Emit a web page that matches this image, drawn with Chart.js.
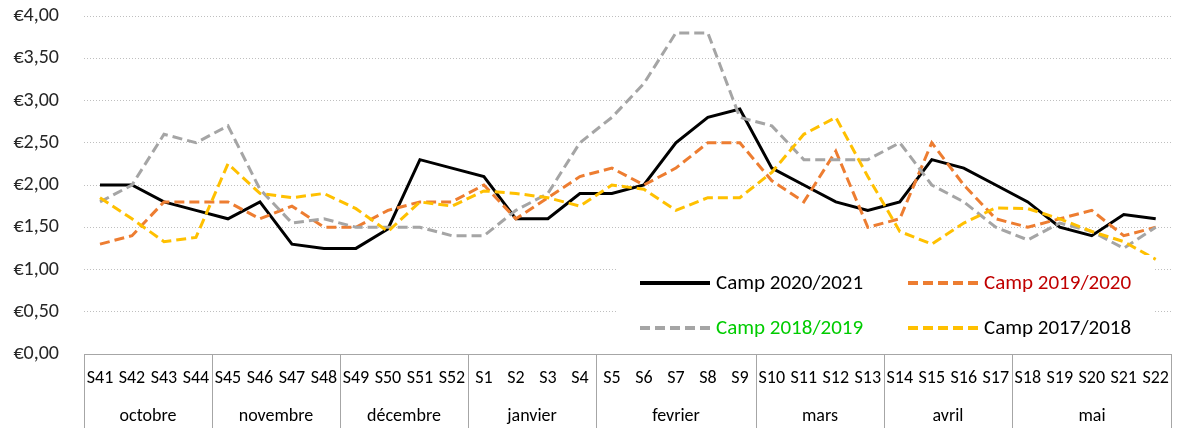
<!DOCTYPE html>
<html>
<head>
<meta charset="utf-8">
<script src="https://cdn.jsdelivr.net/npm/chart.js@4/dist/chart.umd.min.js"></script>
<style>
    html, body { margin: 0; padding: 0; background: #fff; }
    #wrap { width: 1183px; height: 428px; }
</style>
</head>
<body>
<div id="wrap"><canvas id="chart" width="1183" height="428"></canvas></div>
<script>
"use strict";

const weeks = ["S41","S42","S43","S44","S45","S46","S47","S48","S49","S50","S51","S52",
    "S1","S2","S3","S4","S5","S6","S7","S8","S9","S10","S11","S12","S13",
    "S14","S15","S16","S17","S18","S19","S20","S21","S22"];
const months = ["octobre","novembre","décembre","janvier","fevrier","mars","avril","mai"];
const monthWeeks = [4, 4, 4, 4, 5, 4, 4, 5];

const camp2021 = [2.00,2.00,1.80,1.70,1.60,1.80,1.30,1.25,1.25,1.48,2.30,2.20,
    2.10,1.60,1.60,1.90,1.90,2.00,2.50,2.80,2.90,2.20,2.00,1.80,1.70,
    1.80,2.30,2.20,2.00,1.80,1.50,1.40,1.65,1.60];
const camp1920 = [1.30,1.40,1.80,1.80,1.80,1.60,1.75,1.50,1.50,1.70,1.80,1.80,
    2.00,1.60,1.85,2.10,2.20,2.00,2.20,2.50,2.50,2.05,1.80,2.40,1.50,
    1.60,2.50,2.00,1.60,1.50,1.60,1.70,1.40,1.50];
const camp1819 = [1.80,2.00,2.60,2.50,2.70,1.95,1.55,1.60,1.50,1.50,1.50,1.40,
    1.40,1.70,1.90,2.50,2.80,3.20,3.80,3.80,2.80,2.70,2.30,2.30,2.30,
    2.50,2.00,1.80,1.50,1.35,1.55,1.45,1.25,1.50];
const camp1718 = [1.85,1.60,1.33,1.38,2.25,1.90,1.85,1.90,1.72,1.45,1.80,1.75,
    1.93,1.90,1.85,1.75,2.00,1.95,1.70,1.85,1.85,2.15,2.60,2.80,2.10,
    1.45,1.30,1.55,1.73,1.72,1.60,1.45,1.33,1.12];

const seriesNames = ["Camp 2020/2021","Camp 2019/2020","Camp 2018/2019","Camp 2017/2018"];
const legendTextColors = ["#000000","#C00000","#00CC00","#000000"];

const fontFamily = "Carlito, Calibri, Lato, sans-serif";
const axisGrey = "#A6A6A6";

function makeSet(label, data, color, dash, order){
    return {
        label: label,
        data: data,
        borderColor: color,
        backgroundColor: color,
        borderWidth: 3,
        borderDash: dash,
        borderCapStyle: "butt",
        pointRadius: 0,
        tension: 0,
        fill: false,
        order: order
    };
}

// month boxes under the week labels
const monthTable = {
    id: "monthTable",
    afterDraw(chart){
        const ctx = chart.ctx;
        const x = chart.scales.x;
        const area = chart.chartArea;
        const half = (x.getPixelForValue(1) - x.getPixelForValue(0)) / 2;
        ctx.save();
        ctx.strokeStyle = axisGrey;
        ctx.lineWidth = 1;
        ctx.fillStyle = "#000";
        ctx.font = "18px " + fontFamily;
        ctx.textAlign = "center";
        ctx.textBaseline = "middle";
        let start = 0;
        for(let i = 0; i < months.length; i++){
            const left = Math.round(x.getPixelForValue(start) - half) + 0.5;
            const end = start + monthWeeks[i] - 1;
            const right = Math.round(x.getPixelForValue(end) + half) - 0.5;
            ctx.beginPath();
            ctx.moveTo(left, area.bottom);
            ctx.lineTo(left, chart.height);
            if(i === months.length - 1){
                ctx.moveTo(right, area.bottom);
                ctx.lineTo(right, chart.height);
            }
            ctx.stroke();
            ctx.fillText(months[i], (left + right) / 2, area.bottom + 62);
            start = end + 1;
        }
        ctx.restore();
    }
};

// legend box drawn inside the plot area
const insideLegend = {
    id: "insideLegend",
    afterDatasetsDraw(chart){
        const ctx = chart.ctx;
        ctx.save();
        ctx.fillStyle = "#fff";
        ctx.fillRect(616, 255, 537, 92);
        const cols = [640, 908];
        const rows = [283, 328];
        ctx.font = "21px " + fontFamily;
        ctx.textBaseline = "middle";
        ctx.textAlign = "left";
        chart.data.datasets.forEach(function(ds, i){
            const lx = cols[i % 2];
            const ly = rows[Math.floor(i / 2)];
            ctx.beginPath();
            ctx.strokeStyle = ds.borderColor;
            ctx.lineWidth = 4;
            ctx.setLineDash(ds.borderDash || []);
            ctx.moveTo(lx, ly);
            ctx.lineTo(lx + 70, ly);
            ctx.stroke();
            ctx.setLineDash([]);
            ctx.fillStyle = legendTextColors[i];
            ctx.fillText(ds.label, lx + 76, ly + 1);
        });
        ctx.restore();
    }
};

new Chart(document.getElementById("chart"), {
    type: "line",
    data: {
        labels: weeks,
        datasets: [
            makeSet(seriesNames[0], camp2021, "#000000", [], 3),
            makeSet(seriesNames[1], camp1920, "#ED7D31", [10, 5], 2),
            makeSet(seriesNames[2], camp1819, "#A5A5A5", [10, 5], 1),
            makeSet(seriesNames[3], camp1718, "#FFC000", [10, 5], 0)
        ]
    },
    options: {
        responsive: false,
        animation: false,
        layout: { padding: { top: 14, right: 1, left: 0, bottom: 0 } },
        plugins: {
            legend: { display: false },
            tooltip: { enabled: false }
        },
        scales: {
            x: {
                offset: true,
                grid: { display: false, drawTicks: false },
                border: { display: true, color: axisGrey, width: 1 },
                ticks: {
                    autoSkip: false,
                    maxRotation: 0,
                    padding: 14,
                    color: "#000",
                    font: { family: fontFamily, size: 18 }
                },
                afterFit(scale){ scale.height = 74; }
            },
            y: {
                min: 0,
                max: 4,
                ticks: {
                    stepSize: 0.5,
                    padding: 4,
                    color: "#262626",
                    font: { family: fontFamily, size: 20 },
                    callback: function(v){ return "€" + v.toFixed(2).replace(".", ","); }
                },
                grid: { color: "#BFBFBF", lineWidth: 1, drawTicks: true, tickLength: 21, tickColor: "rgba(0,0,0,0)" },
                border: { display: false, dash: [1, 2] },
                afterFit(scale){ scale.width = 84; }
            }
        }
    },
    plugins: [insideLegend, monthTable]
});
</script>
</body>
</html>
